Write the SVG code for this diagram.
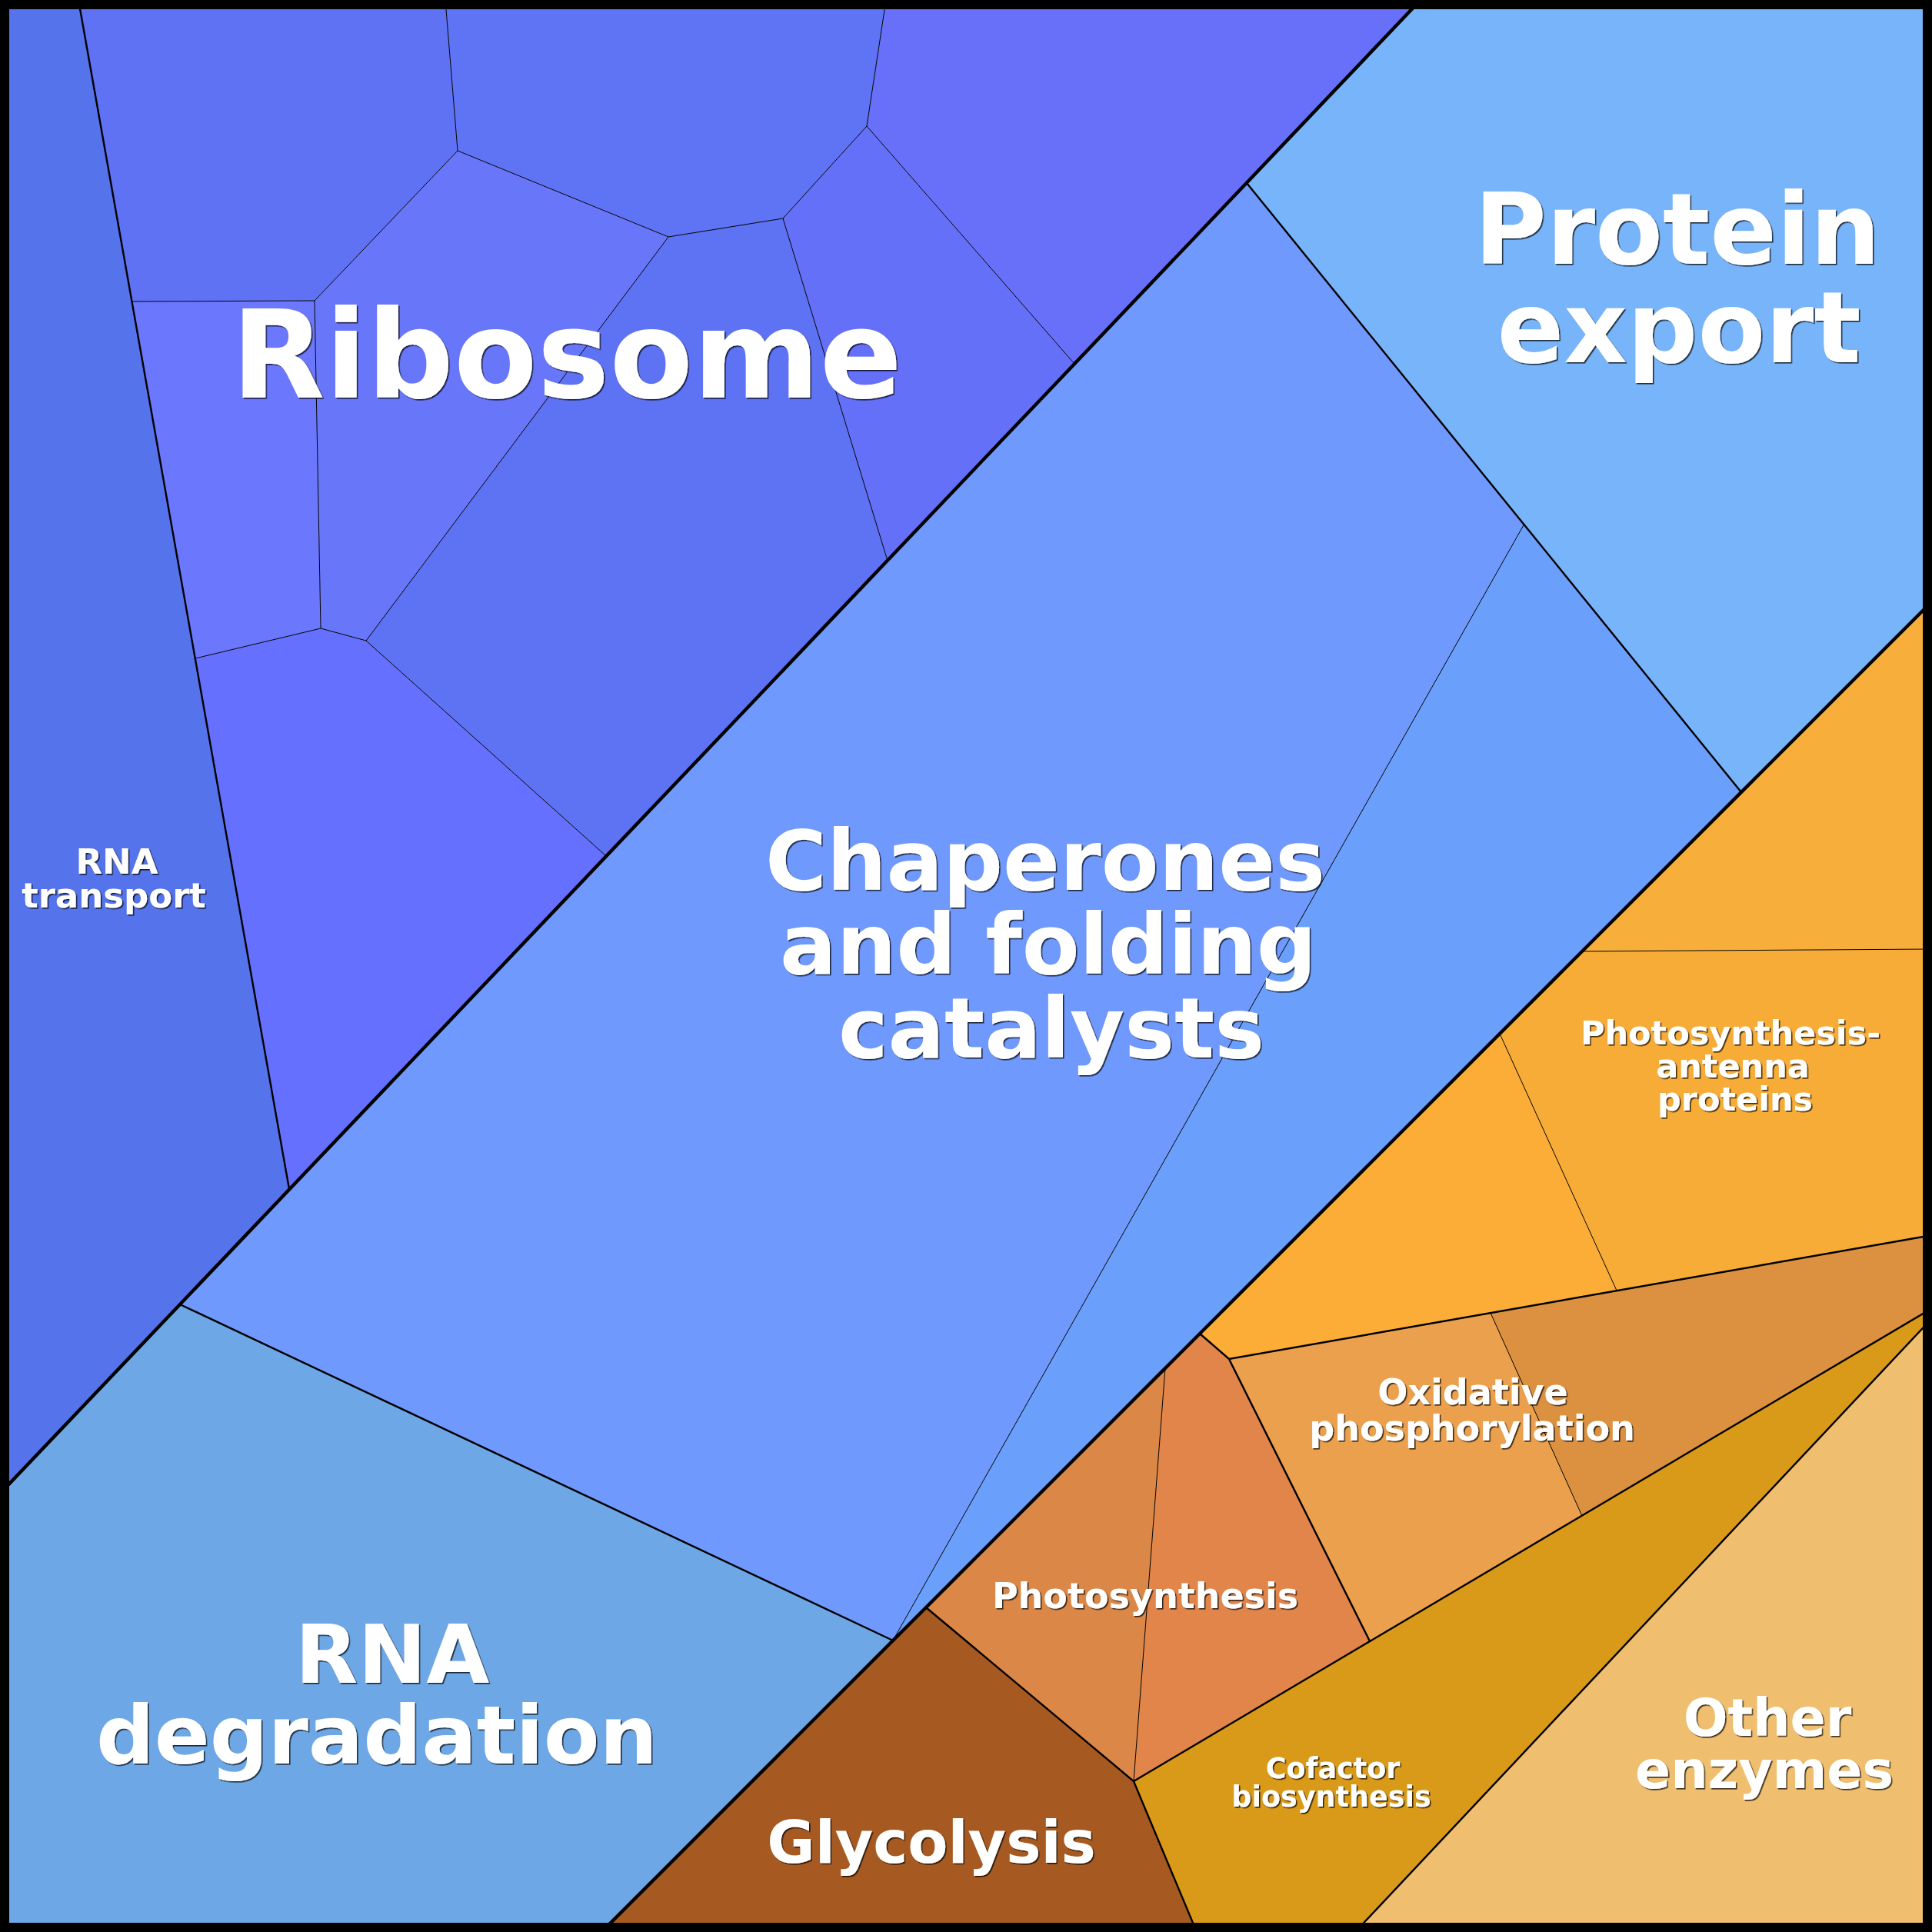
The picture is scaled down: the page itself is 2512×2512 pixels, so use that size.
<svg xmlns="http://www.w3.org/2000/svg" width="2512" height="2512" viewBox="0 0 2512 2512">
<defs>
<filter id="sh" x="-10%" y="-10%" width="120%" height="130%">
<feDropShadow dx="1.6" dy="1.6" stdDeviation="0.4" flood-color="#000" flood-opacity="0.75"/>
</filter>
</defs>
<style>
.c{stroke:none}
.thin{stroke:#000;stroke-width:1;fill:none}
.mid{stroke:#000;stroke-width:2.4;fill:none}
.thick{stroke:#000;stroke-width:4.4;fill:none}
.lbl{font-family:"DejaVu Sans","Liberation Sans",sans-serif;font-weight:bold;fill:#fff;text-anchor:middle;filter:url(#sh)}
</style>
<g id="cells">
<g id="rna-transport"><polygon class="c" fill="#5573ea" points="0,0 102,0 376,1546 0,1942"/></g>
<g id="ribosome">
<polygon class="c" fill="#5f72f4" points="102,0 579,0 595,196 409,391 172,392"/>
<polygon class="c" fill="#5f73f5" points="579,0 1152,0 1127,164 1018,284 869,308 595,196"/>
<polygon class="c" fill="#6870fa" points="1152,0 1847,0 1397,473 1127,164"/>
<polygon class="c" fill="#6b77fc" points="172,392 409,391 417,817 254,856"/>
<polygon class="c" fill="#6877f9" points="409,391 595,196 869,308 476,833 417,817"/>
<polygon class="c" fill="#5e72f4" points="869,308 1018,284 1154,729 788,1113 476,833"/>
<polygon class="c" fill="#6570f9" points="1018,284 1127,164 1397,473 1154,729"/>
<polygon class="c" fill="#6571fe" points="254,856 417,817 476,833 788,1113 376,1546"/>
</g>
<g id="protein-export"><polygon class="c" fill="#78b4f9" points="1847,0 2512,0 2512,782 2264,1030 1621,238"/></g>
<g id="chaperones">
<polygon class="c" fill="#6f99fc" points="1621,238 1982,681 1161,2133 234,1696"/>
<polygon class="c" fill="#6b9ffc" points="1982,681 2264,1030 1161,2133"/>
</g>
<g id="rna-degradation"><polygon class="c" fill="#6da7e5" points="0,1942 234,1696 1161,2133 782,2512 0,2512"/></g>
<g id="photosynthesis-antenna">
<polygon class="c" fill="#f8ae3a" points="2512,782 2512,1234 2057,1237"/>
<polygon class="c" fill="#f7ac38" points="2057,1237 2512,1234 2512,1606 2102,1678 1950,1344"/>
<polygon class="c" fill="#fcad38" points="1950,1344 2102,1678 1598,1767 1560,1734"/>
</g>
<g id="oxidative-phosphorylation">
<polygon class="c" fill="#eaa04c" points="1598,1767 1938,1707 2057,1971 1781,2134"/>
<polygon class="c" fill="#dc9141" points="1938,1707 2512,1606 2512,1701 2057,1971"/>
</g>
<g id="photosynthesis">
<polygon class="c" fill="#da8747" points="1515,1779 1474,2316 1204,2090"/>
<polygon class="c" fill="#e2854a" points="1515,1779 1560,1734 1598,1767 1781,2134 1474,2316"/>
</g>
<g id="glycolysis"><polygon class="c" fill="#a65a22" points="1204,2090 1474,2316 1556,2512 782,2512"/></g>
<g id="cofactor-biosynthesis"><polygon class="c" fill="#da9a19" points="1474,2316 2512,1701 2512,1714 1762,2512 1556,2512"/></g>
<g id="other-enzymes"><polygon class="c" fill="#efbe6e" points="2512,1714 2512,2512 1762,2512"/></g>
</g>
<g id="connectors">
<polyline class="thin" points="579,0 595,196 409,391 172,392"/>
<polyline class="thin" points="595,196 869,308 1018,284 1127,164 1152,0"/>
<line class="thin" x1="1127" y1="164" x2="1397" y2="473"/>
<line class="thin" x1="1018" y1="284" x2="1154" y2="729"/>
<polyline class="thin" points="869,308 476,833 788,1113"/>
<polyline class="thin" points="409,391 417,817 476,833"/>
<line class="thin" x1="417" y1="817" x2="254" y2="856"/>
<line class="thin" x1="1982" y1="681" x2="1161" y2="2133"/>
<line class="thin" x1="2057" y1="1237" x2="2512" y2="1234"/>
<line class="thin" x1="1950" y1="1344" x2="2102" y2="1678"/>
<line class="thin" x1="1938" y1="1707" x2="2057" y2="1971"/>
<line class="thin" x1="1515" y1="1779" x2="1474" y2="2316"/>
<line class="mid" x1="102" y1="0" x2="376" y2="1546"/>
<line class="mid" x1="1621" y1="238" x2="2264" y2="1030"/>
<line class="mid" x1="234" y1="1696" x2="1161" y2="2133"/>
<polyline class="mid" points="1560,1734 1598,1767 2512,1606"/>
<line class="mid" x1="1598" y1="1767" x2="1781" y2="2134"/>
<line class="mid" x1="1474" y1="2316" x2="2512" y2="1701"/>
<polyline class="mid" points="1204,2090 1474,2316 1556,2512"/>
<line class="mid" x1="2512" y1="1714" x2="1762" y2="2512"/>
<line class="thick" x1="1847" y1="0" x2="0" y2="1942"/>
<line class="thick" x1="2512" y1="782" x2="782" y2="2512"/>
</g>
<rect x="6" y="6" width="2500" height="2500" fill="none" stroke="#000" stroke-width="12"/>
<g id="labels">
<text class="lbl" x="737" y="517" font-size="158">Ribosome</text>
<text class="lbl" font-size="128"><tspan x="2181" y="343">Protein</tspan><tspan x="2183" y="471">export</tspan></text>
<text class="lbl" font-size="109"><tspan x="1359" y="1157">Chaperones</tspan><tspan x="1363" y="1266">and folding</tspan><tspan x="1367" y="1375">catalysts</tspan></text>
<text class="lbl" font-size="106"><tspan x="510" y="2188">RNA</tspan><tspan x="490" y="2293">degradation</tspan></text>
<text class="lbl" font-size="45"><tspan x="152" y="1136">RNA</tspan><tspan x="148" y="1180">transport</tspan></text>
<text class="lbl" font-size="43"><tspan x="2250" y="1358">Photosynthesis-</tspan><tspan x="2253" y="1401">antenna</tspan><tspan x="2256" y="1444">proteins</tspan></text>
<text class="lbl" font-size="46"><tspan x="1915" y="1826">Oxidative</tspan><tspan x="1914" y="1873">phosphorylation</tspan></text>
<text class="lbl" x="1489" y="2091" font-size="46">Photosynthesis</text>
<text class="lbl" font-size="36.5"><tspan x="1733" y="2312">Cofactor</tspan><tspan x="1731" y="2349">biosynthesis</tspan></text>
<text class="lbl" font-size="68"><tspan x="2298" y="2257">Other</tspan><tspan x="2294" y="2325">enzymes</tspan></text>
<text class="lbl" x="1211" y="2422" font-size="76">Glycolysis</text>
</g>
</svg>
